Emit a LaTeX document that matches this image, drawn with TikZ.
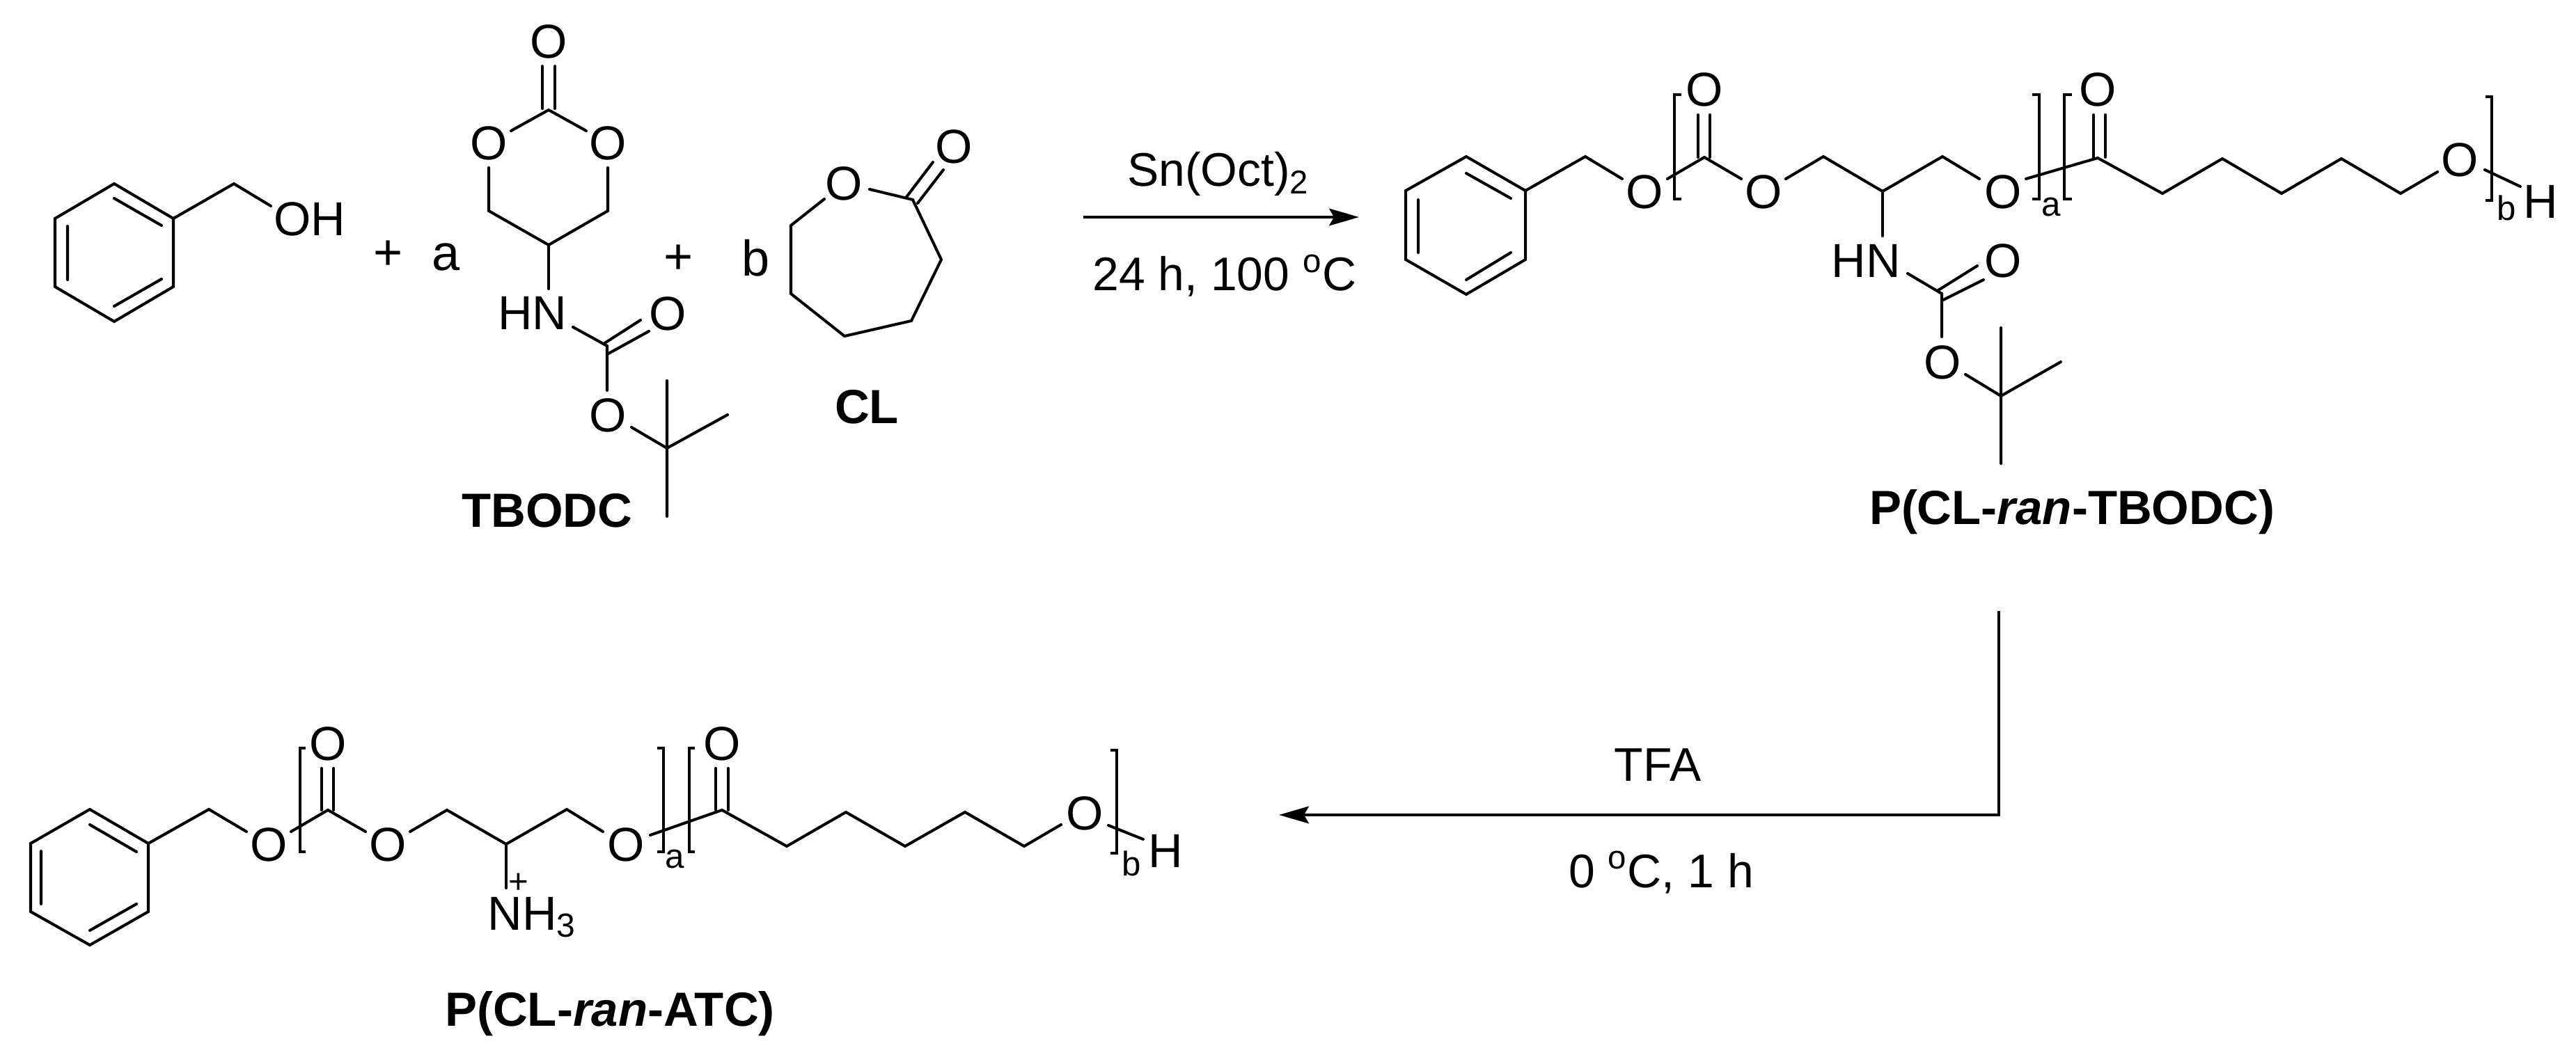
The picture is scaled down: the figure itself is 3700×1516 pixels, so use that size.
\documentclass[tikz,border=0pt]{standalone}
\usepackage{fontspec}
\setmainfont{Liberation Sans}
\usetikzlibrary{arrows.meta}
\tikzset{
  bond/.style={line width=1.15pt,line cap=round,line join=miter},
  bracket/.style={line width=1pt,line cap=butt,line join=miter},
  rxn/.style={line width=1.15pt,-{Stealth[length=12.2pt,width=7pt,inset=2pt]}},
  atom/.style={inner sep=0pt,font=\fontsize{19.5}{22}\selectfont},
  sym/.style={inner sep=0pt,font=\fontsize{20.5}{24}\selectfont},
  subs/.style={inner sep=0pt,font=\fontsize{14}{16}\selectfont},
  cond/.style={inner sep=0pt,anchor=base,font=\fontsize{19.3}{24}\selectfont},
  caption/.style={inner sep=0pt,font=\fontsize{19.6}{22}\selectfont\bfseries},
}
\begin{document}
\begin{tikzpicture}[x=0.01cm,y=-0.01cm]
\useasboundingbox (0,0) rectangle (3700,1516);
% benzyl alcohol
\draw[bond] (164,264)--(249,314)--(249,412)--(164,462)--(79,412)--(79,314)--cycle;
\draw[bond] (164,285)--(232,324) (97,325)--(97,402) (164,440)--(232,401);
\draw[bond] (249,314)--(336,264)--(389,296);
\node[atom] (oh) at (445,315) {OH};
\node[sym] (p1) at (558,367) {+};
\node[sym] (a1) at (641,369) {a};
\node[sym] (p2) at (975,373) {+};
\node[sym] (b1) at (1086,371) {b};
% TBODC
\node[atom] (o1) at (788,60) {O};
\node[atom] (o2) at (702,206) {O};
\node[atom] (o3) at (873,206) {O};
\draw[bond] (779,95)--(779,156) (797,95)--(797,156);
\draw[bond] (734,188)--(788,158)--(842,188);
\draw[bond] (702,241)--(702,303)--(788,352)--(873,303)--(873,241);
\draw[bond] (788,352)--(788,415);
\node[atom] (hn1) at (765,450) {HN};
\node[atom] (o4) at (959,451) {O};
\draw[bond] (823,470)--(872,497)--(872,561);
\draw[bond] (867,494)--(920,460) (874,508)--(932,476);
\node[atom] (o5) at (873,597) {O};
\draw[bond] (907,614)--(958,644);
\draw[bond] (958,547)--(958,742) (958,644)--(1045,596);
\node[caption] (tbodc) at (786,734) {TBODC};
% CL
\node[atom] (o6) at (1212,264) {O};
\node[atom] (o7) at (1370,211) {O};
\draw[bond] (1249,272)--(1311,287)--(1352,373)--(1309,461)--(1213,483)--(1136,422)--(1136,324)--(1184,286);
\draw[bond] (1302,283)--(1340,233) (1318,292)--(1355,244);
\node[caption] (cl) at (1245,585) {CL};
% arrow 1
\coordinate (a1s) at (1556,312);
\coordinate (a1e) at (1952,312);
\draw[rxn] (a1s)--(a1e);
\node[cond] (sn) at (1750,268) {Sn(Oct)\textsubscript{2}};
\node[cond] (c1) at (1759,418) {24 h, 100 \textsuperscript{o}C};
% P(CL-ran-TBODC)
\draw[bond] (2106,225)--(2191,274)--(2191,373)--(2106,423)--(2019,373)--(2019,274)--cycle;
\draw[bond] (2106,249)--(2170,285) (2037,287)--(2037,363) (2106,402)--(2170,363);
\draw[bond] (2191,274)--(2277,225)--(2330,257);
\node[atom] (po1) at (2362,276) {O};
\draw[bond] (2395,257)--(2448,226)--(2501,257);
\node[atom] (po2) at (2448,129) {O};
\draw[bond] (2439,165)--(2439,226) (2456,165)--(2456,226);
\node[atom] (po3) at (2533,276) {O};
\draw[bond] (2565,257)--(2619,225)--(2704,275)--(2790,225)--(2843,257);
\node[atom] (po4) at (2877,276) {O};
\draw[bond] (2910,257)--(3013,227)--(3106,278)--(3192,228)--(3277,278)--(3363,228)--(3448,278)--(3501,247);
\node[atom] (po5) at (3013,129) {O};
\draw[bond] (3007,165)--(3007,226) (3024,165)--(3024,226);
\node[atom] (po6) at (3533,230) {O};
\draw[bond] (3569,244)--(3620,268);
\node[atom] (ph) at (3649,290) {H};
\draw[bracket] (2415,136)--(2405,136)--(2405,286)--(2415,286);
\draw[bracket] (2919,136)--(2929,136)--(2929,286)--(2919,286);
\draw[bracket] (2976,136)--(2965,136)--(2965,286)--(2976,286);
\draw[bracket] (3570,139)--(3579,139)--(3579,288)--(3570,288);
\node[subs] (pa) at (2946,298) {a};
\node[subs] (pb) at (3600,299) {b};
\draw[bond] (2704,275)--(2704,339);
\node[atom] (phn) at (2680,375) {HN};
\node[atom] (po7) at (2877,375) {O};
\draw[bond] (2740,393)--(2789,422)--(2789,484);
\draw[bond] (2784,417)--(2840,382) (2791,431)--(2849,402);
\node[atom] (po8) at (2790,521) {O};
\draw[bond] (2823,538)--(2874,569);
\draw[bond] (2874,471)--(2874,666) (2874,569)--(2960,520);
\node[caption] (ptb) at (2976,736) {P(CL-\textit{ran}-TBODC)};
% arrow 2
\coordinate (a2s) at (2871,878);
\coordinate (a2m) at (2871,1171);
\coordinate (a2e) at (1837,1171);
\draw[rxn] (a2s)--(a2m)--(a2e);
\node[cond] (tfa) at (2381,1122) {TFA};
\node[cond] (c2) at (2386,1275) {0 \textsuperscript{o}C, 1 h};
% P(CL-ran-ATC)
\draw[bond] (129,1163)--(213,1212)--(213,1310)--(129,1358)--(44,1310)--(44,1212)--cycle;
\draw[bond] (129,1185)--(196,1224) (59,1223)--(59,1299) (129,1337)--(196,1299);
\draw[bond] (213,1212)--(300,1163)--(354,1195);
\node[atom] (qo1) at (386,1214) {O};
\draw[bond] (418,1195)--(471,1164)--(525,1195);
\node[atom] (qo2) at (471,1069) {O};
\draw[bond] (462,1104)--(462,1164) (479,1104)--(479,1164);
\node[atom] (qo3) at (557,1214) {O};
\draw[bond] (589,1195)--(642,1164)--(727,1213)--(814,1163)--(866,1195);
\node[atom] (qo4) at (899,1214) {O};
\draw[bond] (934,1200)--(1037,1164)--(1130,1216)--(1215,1167)--(1300,1216)--(1386,1167)--(1471,1216)--(1524,1185);
\node[atom] (qo5) at (1037,1069) {O};
\draw[bond] (1028,1104)--(1028,1164) (1046,1104)--(1046,1164);
\node[atom] (qo6) at (1558,1169) {O};
\draw[bond] (1592,1186)--(1642,1206);
\node[atom] (qh) at (1674,1223) {H};
\draw[bracket] (439,1075)--(431,1075)--(431,1224)--(439,1224);
\draw[bracket] (944,1075)--(953,1075)--(953,1224)--(944,1224);
\draw[bracket] (998,1075)--(990,1075)--(990,1224)--(998,1224);
\draw[bracket] (1595,1078)--(1604,1078)--(1604,1226)--(1595,1226);
\node[subs] (qa) at (969,1234) {a};
\node[subs] (qb) at (1625,1241) {b};
\draw[bond] (727,1213)--(727,1276);
\node[subs] (plus) at (745,1269) {+};
\node[atom,anchor=base west] (nh) at (700,1336) {NH\textsubscript{3}};
\node[caption] (patc) at (876,1457) {P(CL-\textit{ran}-ATC)};
\end{tikzpicture}
\end{document}
